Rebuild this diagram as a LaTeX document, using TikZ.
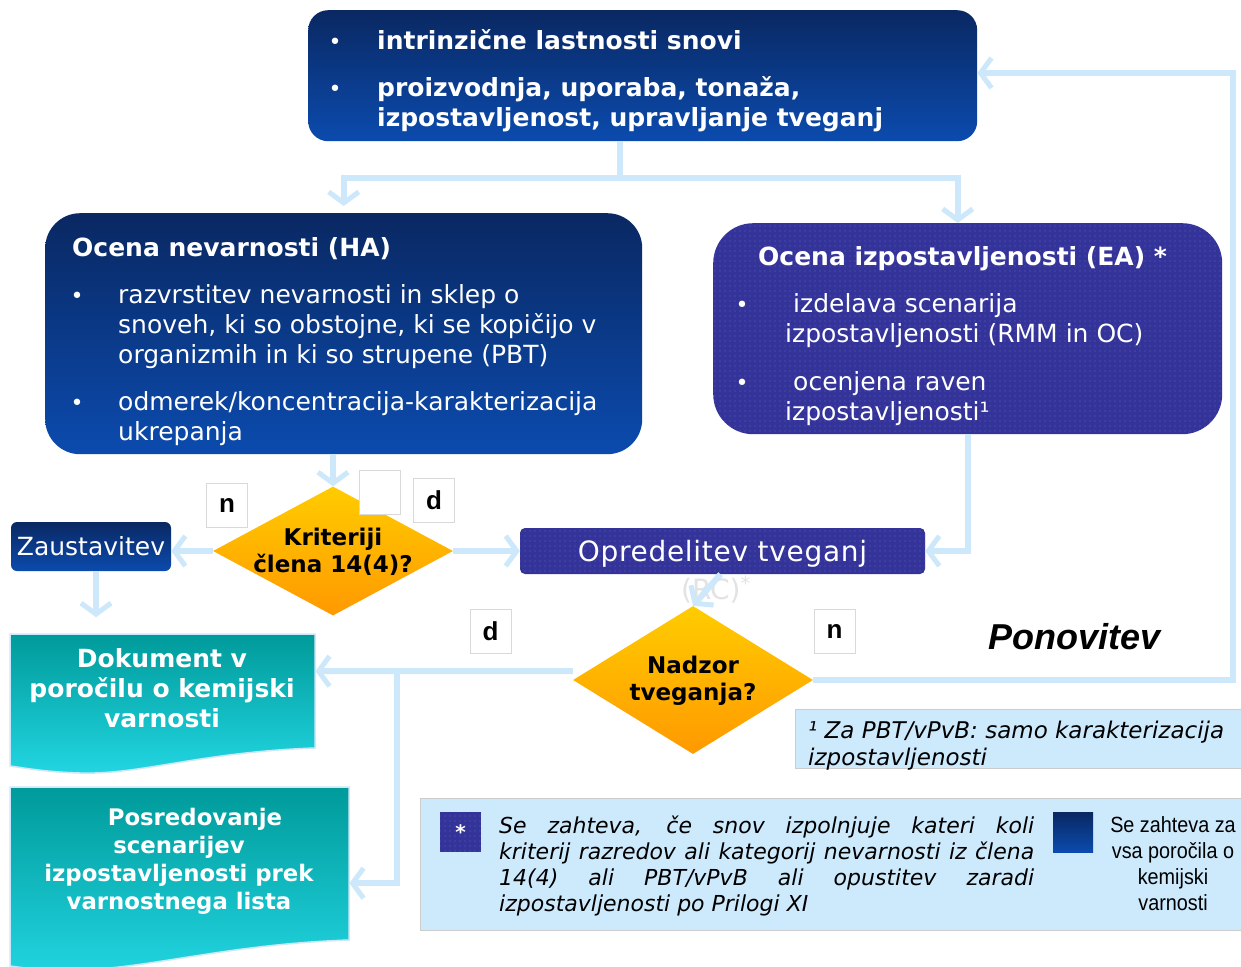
\documentclass[tikz,border=0pt]{standalone}
\usepackage{fontspec}
\setmainfont{DejaVu Sans}
\newfontfamily\arialf{Liberation Sans}
\newfontfamily\narrowf[FakeStretch=0.9]{Liberation Sans}
\newfontfamily\spacedf[LetterSpace=2.5]{DejaVu Sans}
\usetikzlibrary{arrows.meta,shapes.geometric,patterns.meta}
\definecolor{navyT}{HTML}{0A2862}
\definecolor{navyB}{HTML}{0B4BAE}
\definecolor{indig}{HTML}{333399}
\definecolor{indigdot}{HTML}{6464B8}
\definecolor{lineblue}{HTML}{CCE8FA}
\definecolor{tealT}{HTML}{009A9A}
\definecolor{tealB}{HTML}{22D6E2}
\definecolor{yelT}{HTML}{FFCC00}
\definecolor{orgB}{HTML}{FF9900}
\definecolor{notebg}{HTML}{CDEAFC}
\hyphenpenalty=10000
\begin{document}
\begin{tikzpicture}[x=1pt,y=-1pt,
  navybox/.style={rounded corners=#1, top color=navyT, bottom color=navyB, draw=none},
  navybox/.default=10pt,
  indigobox/.style={rounded corners=#1, fill=indig, draw=none,
     postaction={pattern={Dots[distance=5pt,radius=0.6pt]}, pattern color=indigdot}},
  indigobox/.default=10pt,
  wbold/.style={text=white, font=\bfseries\fontsize{25}{30}\selectfont, inner sep=0pt},
  wreg/.style={text=white, font=\fontsize{25}{30}\selectfont, inner sep=0pt},
  bul/.style={text=white, font=\fontsize{22}{30}\selectfont, inner sep=0pt, anchor=base},
  conn/.style={draw=lineblue, line width=6pt},
  arr/.style={draw=lineblue, line width=6pt, -{Straight Barb[length=11pt,width=30pt,line width=5pt]}},
  dia/.style={diamond, top color=yelT, bottom color=orgB, draw=none, inner sep=0pt},
  diatext/.style={align=center, font=\bfseries\fontsize{23}{27}\selectfont, text=black, inner sep=0pt},
  labelbox/.style={draw=gray!30, fill=white, line width=1pt, minimum width=41pt, minimum height=44pt,
     font=\arialf\bfseries\fontsize{26}{30}\selectfont, inner sep=0pt},
  doctext/.style={align=center, text=white, inner sep=0pt},
  invis/.style={draw=none, fill=none, inner sep=0pt, anchor=north west}
]
\useasboundingbox (0,0) rectangle (1241,966);
\clip (0,0) rectangle (1241,966);
\fill[white] (0,0) rectangle (1241,966);

% ---------- top box
\node[navybox=20pt, minimum width=669pt, minimum height=131pt, anchor=north west] (top) at (308,10) {};
\node[bul] (tb1) at (335,50) {•};
\node[wbold, anchor=base west] (tt1) at (377,50) {intrinzične lastnosti snovi};
\node[bul] (tb2) at (335,96) {•};
\node[wbold, anchor=base west] (tt2) at (377,96) {proizvodnja, uporaba, tonaža,};
\node[wbold, anchor=base west] (tt3) at (377,126) {izpostavljenost, upravljanje tveganj};

% ---------- HA box
\node[navybox=35pt, minimum width=597pt, minimum height=241pt, anchor=north west] (ha) at (45,213) {};
\node[wbold, anchor=base west] (hat) at (72,256) {Ocena nevarnosti (HA)};
\node[bul] (hb1) at (77,303) {•};
\node[wreg, anchor=base west] (ha1) at (118,303) {razvrstitev nevarnosti in sklep o};
\node[wreg, anchor=base west] (ha2) at (118,333) {snoveh, ki so obstojne, ki se kopičijo v};
\node[wreg, anchor=base west] (ha3) at (118,363) {organizmih in ki so strupene (PBT)};
\node[bul] (hb2) at (77,410) {•};
\node[wreg, anchor=base west] (ha4) at (118,410) {odmerek/koncentracija-karakterizacija};
\node[wreg, anchor=base west] (ha5) at (118,440) {ukrepanja};

% ---------- EA box
\node[indigobox=40pt, minimum width=509pt, minimum height=211pt, anchor=north west] (ea) at (713,223) {};
\node[wbold, anchor=base west] (eat) at (758,265) {Ocena izpostavljenosti (EA) *};
\node[bul] (eb1) at (742,312) {•};
\node[wreg, anchor=base west] (ea1) at (793,312) {izdelava scenarija};
\node[wreg, anchor=base west] (ea2) at (785,342) {izpostavljenosti (RMM in OC)};
\node[bul] (eb2) at (742,390) {•};
\node[wreg, anchor=base west] (ea3) at (793,390) {ocenjena raven};
\node[wreg, anchor=base west] (ea4) at (785,420) {izpostavljenosti¹};

% ---------- Zaustavitev, Opredelitev
\node[navybox=6pt, minimum width=160pt, minimum height=49pt, wreg] (zau) at (91,546.5) {Zaustavitev};
\node[indigobox=5pt, minimum width=405pt, minimum height=46pt, text=white, text depth=0pt,
      font=\spacedf\fontsize{28}{30}\selectfont, inner sep=0pt] (opr) at (722.5,551) {Opredelitev tveganj};
\node[text=gray!22, font=\fontsize{28}{30}\selectfont, inner sep=0pt] (rc) at (716,590) {(RC)\textsuperscript{*}};

% ---------- documents
\shadedraw[top color=tealT, bottom color=tealB, draw=lineblue, line width=1.5pt]
  (10,634) -- (315,634) -- (315,748) .. controls (200,752) and (140,775) .. (80,773)
  .. controls (45,772) and (25,768) .. (10,766) -- cycle;
\node[invis, minimum width=305pt, minimum height=74pt] (dok) at (10,634) {};
\node[doctext, font=\bfseries\fontsize{25}{30}\selectfont] (doktxt) at (162,688) {Dokument v\\poročilu o kemijski\\varnosti};

\shadedraw[top color=tealT, bottom color=tealB, draw=lineblue, line width=1.5pt]
  (10,787) -- (349,787) -- (349,940) .. controls (230,944) and (150,968) .. (80,970)
  .. controls (45,971) and (25,968) .. (10,966) -- (10,980) -- cycle;
\node[invis, minimum width=339pt, minimum height=192pt] (pos) at (10,787) {};
\node[doctext, font=\bfseries\fontsize{22.8}{28}\selectfont] (postxt) at (179,861)
  {\hspace*{32pt}Posredovanje\\scenarijev\\izpostavljenosti prek\\varnostnega lista};

% ---------- diamonds
\node[dia, minimum width=240pt, minimum height=129pt] (d1) at (333,551) {};
\node[diatext] (d1t) at (333,551.5) {Kriteriji\\člena 14(4)?};
\node[dia, minimum width=240pt, minimum height=148pt] (d2) at (693,680) {};
\node[diatext] (d2t) at (693,680.5) {Nadzor\\tveganja?};

% ---------- connectors
\coordinate (split) at (620,178);
\draw[conn] (split |- top.south) -- (split);
\draw[arr, shorten >=7pt] (split) -| (ha.north);
\draw[arr] (split) -| ([xshift=-10pt]ea.north);
\draw[arr] (d1.north |- ha.south) -- (d1.north);
\draw[arr] (d1.west) -- (d1.west -| zau.east);
\draw[arr] (d1.east) -- (opr.west);
\draw[arr] (ea.south) |- (opr.east);
\draw[arr] ([xshift=5pt]zau.south) -- ++(0,46);
\draw[arr] ([xshift=-2pt]opr.south) -- (d2.north);
\draw[arr] ([yshift=9pt]d2.west) -- (dok.east);
\coordinate (br) at (397,671);
\draw[arr] (br) |- (pos.east);
\coordinate (loopc) at (1233,73);
\draw[arr] (d2.east) -| (loopc) -- (loopc -| top.east);

% ---------- labels
\node[labelbox] (ln1) at (227,505) {n};
\node[labelbox] (lempty) at (379.5,492) {};
\node[labelbox] (ld1) at (434,500.5) {d};
\node[labelbox] (ld2) at (490.5,631.5) {d};
\node[labelbox] (ln2) at (834.5,631.5) {n};

\node[font=\arialf\bfseries\itshape\fontsize{36}{40}\selectfont, inner sep=0pt, anchor=base west] (pon) at (988,649) {Ponovitev};

% ---------- footnote
\node[draw=gray!40, fill=notebg, line width=1pt, minimum width=460pt, minimum height=59pt, anchor=north west] (fn) at (795,709) {};
\node[anchor=base west, font=\itshape\fontsize{23}{27}\selectfont, inner sep=0pt] (fnt1) at (808,738) {¹ Za PBT/vPvB: samo karakterizacija};
\node[anchor=base west, font=\itshape\fontsize{23}{27}\selectfont, inner sep=0pt] (fnt2) at (808,765) {izpostavljenosti};

% ---------- legend
\node[draw=gray!40, fill=notebg, line width=1pt, minimum width=830pt, minimum height=132pt, anchor=north west] (leg) at (420,798) {};
\node[indigobox=0pt, minimum width=41pt, minimum height=40pt, anchor=north west, text=white,
      font=\bfseries\fontsize{20}{20}\selectfont, inner sep=0pt] (lstar) at (440,812) {*};
\node[anchor=north west, text width=535pt, align=justify, font=\itshape\fontsize{22}{26}\selectfont, inner sep=0pt] (legt) at (499,816)
  {Se zahteva, če snov izpolnjuje kateri koli\linebreak kriterij razredov ali kategorij nevarnosti iz člena\linebreak 14(4) ali PBT/vPvB ali opustitev zaradi\linebreak izpostavljenosti po Prilogi XI};
\node[navybox=0pt, minimum width=40pt, minimum height=40pt, anchor=north west] (lnavy) at (1053,812) {};
\node[align=center, font=\narrowf\fontsize{22}{26}\selectfont, inner sep=0pt, anchor=north] (legr) at (1173,816)
  {Se zahteva za\\vsa poročila o\\kemijski\\varnosti};
\end{tikzpicture}
\end{document}
